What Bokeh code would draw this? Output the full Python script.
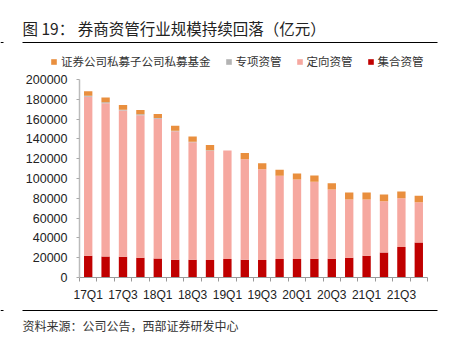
from bokeh.plotting import figure
from bokeh.models import (Range1d, FixedTicker, Legend, LegendItem, Label,
                          ColumnDataSource, NumeralTickFormatter)
from bokeh.embed import file_html
from bokeh.resources import INLINE

quarters = ["17Q1", "17Q2", "17Q3", "17Q4", "18Q1", "18Q2", "18Q3", "18Q4",
            "19Q1", "19Q2", "19Q3", "19Q4", "20Q1", "20Q2", "20Q3", "20Q4",
            "21Q1", "21Q2", "21Q3", "21Q4"]
jihe = [22000, 21300, 21000, 19900, 19200, 17900, 17900, 17600, 18600, 17900,
        17600, 18600, 18600, 18900, 18900, 19900, 22000, 25300, 30800, 35400]
dingxiang = [160700, 154600, 147600, 144100, 141100, 129800, 118700, 110500, 109700, 101600,
             91800, 84200, 80300, 77700, 70100, 59000, 56900, 51700, 49200, 40600]
zhuanxiang = [1000, 1000, 900, 800, 700, 600, 500, 400, 0, 0,
              0, 0, 0, 0, 0, 0, 0, 0, 0, 0]
simu = [4400, 4800, 4700, 4300, 4100, 5000, 5400, 5400, 0, 6300,
        6000, 6000, 6100, 6400, 6200, 6900, 6900, 6800, 6800, 6700]
y_ticks = [0, 20000, 40000, 60000, 80000, 100000, 120000, 140000, 160000, 180000, 200000]
series_names = ["证券公司私募子公司私募基金", "专项资管", "定向资管", "集合资管"]
title_text = "图 19：  券商资管行业规模持续回落（亿元）"
source_text = "资料来源：公司公告，西部证券研发中心"

colors = {"simu": "#E98F3E", "zhuanxiang": "#B3B3B3", "dingxiang": "#F6A8A0", "jihe": "#C00000"}

W, H = 450, 343
# plot-area geometry on the canvas (pixels)
PL, PR, PT, PB = 79, 427, 79, 277
n = len(quarters)
ppx = (PR - PL) / n               # pixels per category
ppy = (PB - PT) / 200000          # pixels per unit
x0 = -0.5 - PL / ppx
x1 = n - 0.5 + (W - PR) / ppx
y0 = -(H - PB) / ppy
y1 = 200000 + PT / ppy


def cx(px):
    return x0 + px / ppx


def cy(py):
    return y1 - py / ppy


xs = list(range(n))
src = ColumnDataSource(dict(x=xs, jihe=jihe, dingxiang=dingxiang,
                            zhuanxiang=zhuanxiang, simu=simu))

p = figure(width=W, height=H, output_backend="svg", toolbar_location=None,
           x_range=Range1d(x0, x1), y_range=Range1d(y0, y1),
           min_border=0)
p.outline_line_color = None
p.grid.grid_line_color = None
p.background_fill_color = "white"

stack = ["jihe", "dingxiang", "zhuanxiang", "simu"]
rs = p.vbar_stack(stack, x="x", width=0.48, source=src,
                  color=[colors[k] for k in stack], line_color=None)
rmap = dict(zip(stack, rs))

# decorative rules under the title and above the source line
rule_y = [42, 310]
p.segment(x0=[cx(22)] * 2, x1=[cx(437)] * 2, y0=[cy(v) for v in rule_y],
          y1=[cy(v) for v in rule_y], line_color="#000000", line_width=1.2)
p.segment(x0=[cx(0)] * 2, x1=[cx(3)] * 2, y0=[cy(v) for v in rule_y],
          y1=[cy(v) for v in rule_y], line_color="#000000", line_width=1)

# axes
p.xaxis.fixed_location = 0
p.xaxis.bounds = (-0.5, n - 0.5)
p.xaxis.ticker = FixedTicker(ticks=xs[::2], minor_ticks=[i - 0.5 for i in range(n + 1)])
p.xaxis.major_label_overrides = {i: quarters[i] for i in xs[::2]}
p.xaxis.major_tick_line_color = None
p.xaxis.major_tick_out = 0
p.xaxis.major_tick_in = 0
p.xaxis.minor_tick_out = 4
p.xaxis.minor_tick_in = 0
p.xaxis.minor_tick_line_color = "#999999"
p.xaxis.axis_line_color = "#999999"
p.xaxis.major_label_standoff = 6
p.xaxis.major_label_text_font = "Liberation Sans"
p.xaxis.major_label_text_font_size = "12px"
p.xaxis.major_label_text_color = "#222222"

p.yaxis.fixed_location = -0.5
p.yaxis.bounds = (0, 200000)
p.yaxis.ticker = FixedTicker(ticks=y_ticks)
p.yaxis.formatter = NumeralTickFormatter(format="0")
p.yaxis.major_tick_out = 3
p.yaxis.major_tick_in = 0
p.yaxis.minor_tick_line_color = None
p.yaxis.major_tick_line_color = "#AAAAAA"
p.yaxis.axis_line_color = "#BBBBBB"
p.yaxis.axis_line_width = 1.5
p.yaxis.major_label_standoff = 9
p.yaxis.major_label_text_font = "Liberation Sans"
p.yaxis.major_label_text_font_size = "12.5px"
p.yaxis.major_label_text_color = "#222222"

# legend
items = [LegendItem(label=series_names[0], renderers=[rmap["simu"]]),
         LegendItem(label=series_names[1], renderers=[rmap["zhuanxiang"]]),
         LegendItem(label=series_names[2], renderers=[rmap["dingxiang"]]),
         LegendItem(label=series_names[3], renderers=[rmap["jihe"]])]
leg = Legend(items=items, orientation="horizontal", location=(50, 274),
             glyph_width=7, glyph_height=7, label_standoff=4, spacing=14,
             padding=0, margin=0, border_line_color=None, background_fill_alpha=0,
             label_text_font="Noto Sans CJK SC", label_text_font_size="11.5px",
             label_text_color="#333333", label_height=12)
p.add_layout(leg, "center")

# title and source (canvas units: origin top-left)
p.add_layout(Label(x=22, y=27, x_units="canvas", y_units="canvas", text=title_text,
                   text_font="Noto Sans CJK SC", text_font_size="15.5px",
                   text_color="#222222", text_baseline="middle"))
p.add_layout(Label(x=22, y=325, x_units="canvas", y_units="canvas", text=source_text,
                   text_font="Noto Sans CJK SC", text_font_size="12px",
                   text_color="#333333", text_baseline="middle"))

open("out.html", "w").write(file_html(p, INLINE))
